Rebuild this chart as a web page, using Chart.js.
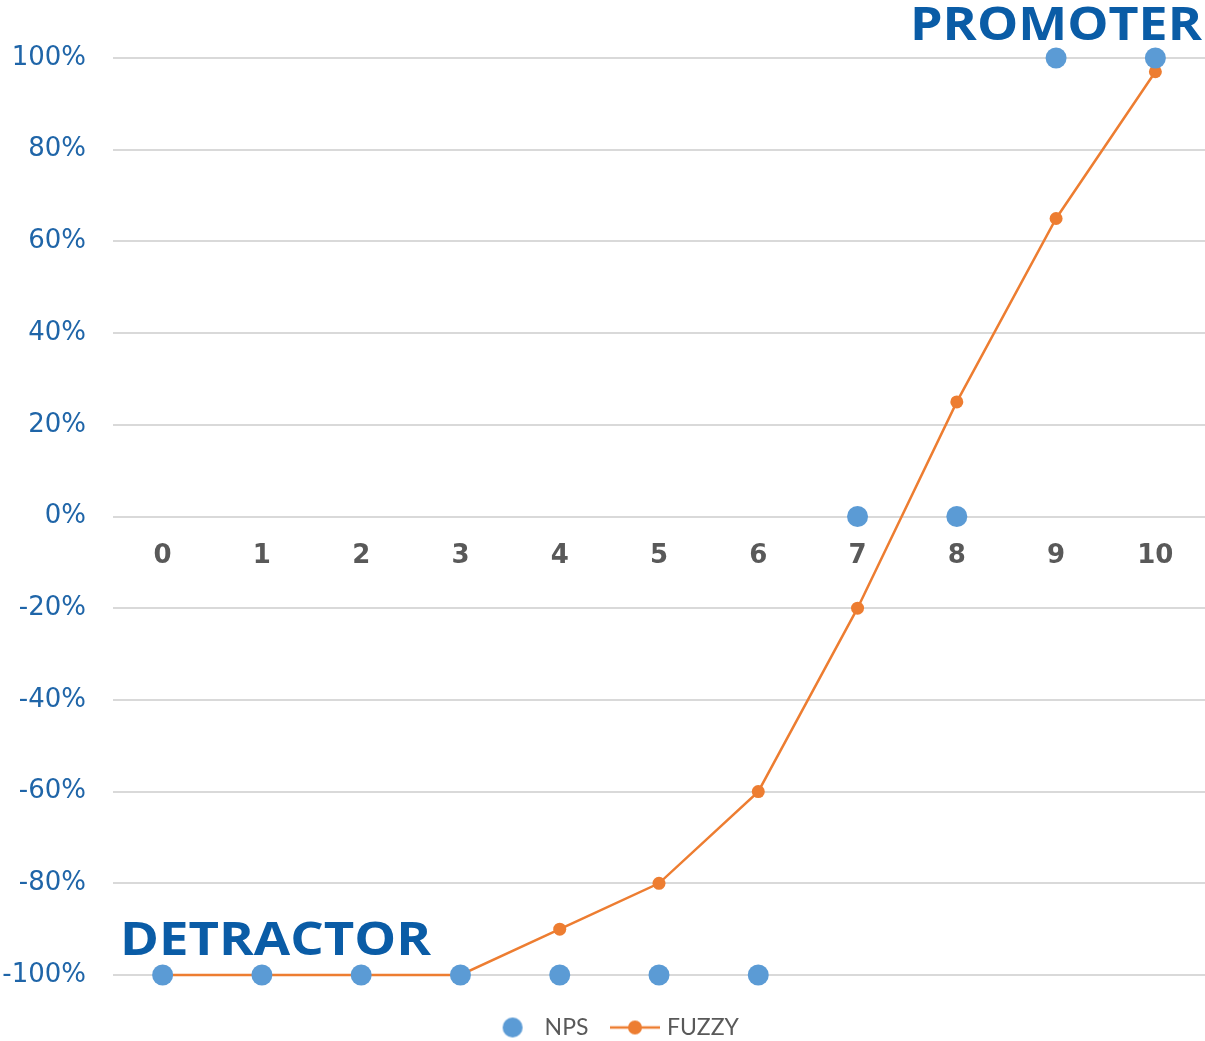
<!DOCTYPE html>
<html>
<head>
<meta charset="utf-8">
<script src="https://cdn.jsdelivr.net/npm/chart.js@4"></script>
<style>
  html, body { margin: 0; padding: 0; background: #fff; }
  #wrap { width: 1205px; height: 1041px; }
</style>
</head>
<body>
<div id="wrap"><canvas id="npsChart"></canvas></div>
<script>
const scores = ['0', '1', '2', '3', '4', '5', '6', '7', '8', '9', '10'];
const npsValues = [-100, -100, -100, -100, -100, -100, -100, 0, 0, 100, 100];
const fuzzyValues = [-100, -100, -100, -100, -90, -80, -60, -20, 25, 65, 97];
const yTicks = [-100, -80, -60, -40, -20, 0, 20, 40, 60, 80, 100];

const BLUE = '#5B9BD5';
const ORANGE = '#ED7D31';
const TITLE_BLUE = '#0A5CA6';

// iconos de la leyenda: circulo azul y linea naranja con punto
function legendIcon(kind) {
    const c = document.createElement('canvas');
    c.width = 52; c.height = 24;
    const g = c.getContext('2d');
    if (kind === 'dot') {
        g.fillStyle = BLUE;
        g.beginPath(); g.arc(26, 12, 10, 0, Math.PI * 2); g.fill();
    } else {
        g.strokeStyle = ORANGE; g.lineWidth = 2.5;
        g.beginPath(); g.moveTo(1, 12); g.lineTo(51, 12); g.stroke();
        g.fillStyle = ORANGE;
        g.beginPath(); g.arc(26, 12, 7, 0, Math.PI * 2); g.fill();
    }
    return c;
}
const icons = [legendIcon('dot'), legendIcon('line')];

// etiquetas PROMOTER / DETRACTOR ancladas a la escala y
const zoneLabels = {
    id: 'zoneLabels',
    afterLayout(chart) {
        // la leyenda cuenta el padding final del ultimo item; se recentra
        const shift = chart.options.plugins.legend.labels.padding / 2;
        chart.legend.left += shift;
        chart.legend.right += shift;
    },
    afterDraw(chart) {
        const { ctx, chartArea, scales } = chart;
        const y = scales.y;
        ctx.save();
        ctx.fillStyle = TITLE_BLUE;
        ctx.font = 'bold 46px "Open Sans"';
        ctx.textBaseline = 'alphabetic';
        const drawFit = (text, x, base, width, align) => {
            const w = ctx.measureText(text).width;
            const s = width / w;
            ctx.save();
            ctx.translate(align === 'right' ? x - width : x, base);
            ctx.scale(s, 1);
            ctx.textAlign = 'left';
            ctx.fillText(text, 0, 0);
            ctx.restore();
        };
        drawFit('PROMOTER', chartArea.right - 3, y.getPixelForValue(100) - 18, 292, 'right');
        drawFit('DETRACTOR', chartArea.left + 7, y.getPixelForValue(-100) - 20, 311, 'left');
        ctx.restore();
    }
};

new Chart(document.getElementById('npsChart'), {
    type: 'line',
    data: {
        labels: scores,
        datasets: [
            {
                label: 'NPS',
                data: npsValues,
                showLine: false,
                clip: false,
                pointRadius: 10.5,
                pointHoverRadius: 10.5,
                pointBackgroundColor: BLUE,
                pointBorderWidth: 0,
                borderColor: BLUE,
                backgroundColor: BLUE,
            },
            {
                label: 'FUZZY',
                data: fuzzyValues,
                clip: false,
                borderColor: ORANGE,
                borderWidth: 2.5,
                pointRadius: 6.5,
                pointHoverRadius: 6.5,
                pointBackgroundColor: ORANGE,
                pointBorderWidth: 0,
                backgroundColor: ORANGE,
                tension: 0,
            },
        ]
    },
    options: {
        responsive: true,
        maintainAspectRatio: false,
        animation: false,
        layout: { autoPadding: false, padding: { top: 58, right: 0, left: 0, bottom: -8 } },
        scales: {
            x: {
                position: { y: 0 },
                offset: true,
                grid: { display: false },
                border: { display: false },
                afterFit(axis) { axis.paddingLeft = 0; axis.paddingRight = 0; },
                ticks: {
                    padding: 16,
                    color: '#595959',
                    font: { family: '"DejaVu Sans"', size: 26, weight: 'bold' }
                }
            },
            y: {
                min: -100,
                max: 100,
                afterBuildTicks(axis) {
                    axis.ticks = yTicks.map(v => ({ value: v }));
                },
                afterFit(axis) { axis.width = 113; },
                grid: { color: '#D9D9D9', lineWidth: 2, drawTicks: false },
                border: { display: false },
                ticks: {
                    padding: 27,
                    color: '#1F65A8',
                    font: { family: '"DejaVu Sans"', size: 26 },
                    callback: v => v + '%'
                }
            }
        },
        plugins: {
            legend: {
                position: 'bottom',
                // titulo vacio para separar la leyenda del area del grafico
                title: { display: true, text: '', padding: { top: 14, bottom: 0 }, font: { size: 1, lineHeight: 1 } },
                labels: {
                    usePointStyle: true,
                    pointStyleWidth: 41,
                    boxHeight: 22,
                    padding: 26,
                    color: '#595959',
                    font: { family: 'Lato', size: 23, lineHeight: 1 },
                    generateLabels(chart) {
                        return chart.data.datasets.map((ds, i) => ({
                            text: ds.label,
                            pointStyle: icons[i],
                            fillStyle: ds.backgroundColor,
                            strokeStyle: ds.borderColor,
                            lineWidth: 0,
                            fontColor: '#595959',
                            datasetIndex: i,
                            hidden: false
                        }));
                    }
                }
            },
            tooltip: { enabled: false }
        }
    },
    plugins: [zoneLabels]
});
</script>
</body>
</html>
